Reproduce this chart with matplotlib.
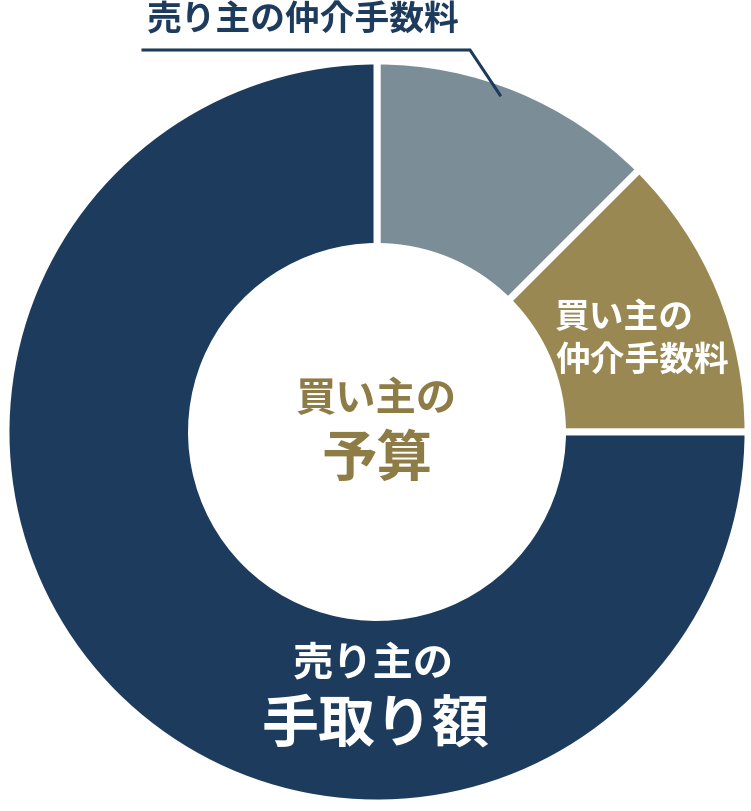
import matplotlib
matplotlib.use("Agg")
import matplotlib.pyplot as plt

plt.rcParams['font.family'] = ['Noto Sans CJK JP', 'DejaVu Sans']

# 予算の内訳 (%)
labels = ['売り主の仲介手数料', '買い主の仲介手数料', '売り主の手取り額']
shares = [12.5, 12.5, 75]
colors = ['#7b8e98', '#9a8852', '#1d3b5c']

W, H = 751, 811
cx, cy, R = 377, 432, 371

fig = plt.figure(figsize=(W / 100, H / 100), dpi=100)
fig.patch.set_facecolor('white')

# donut
ax = fig.add_axes([(cx - R) / W, (H - cy - R) / H, 2 * R / W, 2 * R / H])
ax.pie(shares, colors=colors, startangle=90, counterclock=False,
       wedgeprops=dict(width=0.5, edgecolor='white', linewidth=5))
ax.set_xlim(-1, 1)
ax.set_ylim(-1, 1)
ax.set_aspect('auto')
ax.axis('off')

# overlay for text, pixel coords
ov = fig.add_axes([0, 0, 1, 1])
ov.set_xlim(0, W)
ov.set_ylim(H, 0)
ov.axis('off')

navy = '#1d3b5c'
gold = '#8e7c47'

ov.text(147, 20, labels[0], color=navy, fontsize=25, fontweight='bold',
        ha='left', va='center')
ov.plot([143, 470, 500], [50, 50, 95], color=navy, lw=2.2,
        solid_joinstyle='miter')

ov.text(555, 317, '買い主の', color='white', fontsize=25, fontweight='bold',
        ha='left', va='center')
ov.text(555, 360, '仲介手数料', color='white', fontsize=25, fontweight='bold',
        ha='left', va='center')

ov.text(376, 400, '買い主の', color=gold, fontsize=29, fontweight='bold',
        ha='center', va='center')
ov.text(377, 460, '予算', color=gold, fontsize=40, fontweight='bold',
        ha='center', va='center')

ov.text(373, 665, '売り主の', color='white', fontsize=29, fontweight='bold',
        ha='center', va='center')
ov.text(376, 725, '手取り額', color='white', fontsize=41, fontweight='bold',
        ha='center', va='center')

fig.savefig('out.png', dpi=100, facecolor='white')
